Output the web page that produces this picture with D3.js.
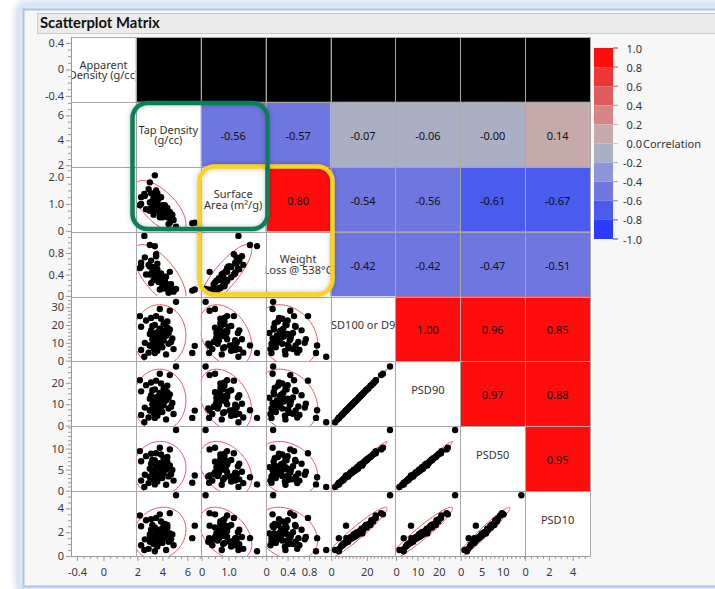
<!DOCTYPE html>
<html lang="en">
<head>
<meta charset="utf-8">
<title>Scatterplot Matrix</title>
<script src="https://cdn.jsdelivr.net/npm/d3@7"></script>
<style>
  body { margin: 0; background: #fff; }
  svg text { font-family: "Noto Sans", "Open Sans", sans-serif; }
  .axis text { font-size: 11px; fill: #3a3a3a; }
  .axis path, .axis line { stroke: #9a9a9a; }
</style>
</head>
<body>
<script>

// variable labels shown on the diagonal
const diagLabels = [
  ["Apparent", "Density (g/cc)"],
  ["Tap Density", "(g/cc)"],
  ["Surface", "Area (m\u00b2/g)"],
  ["Weight", "Loss @ 538\u00b0C"],
  ["PSD100 or D99"],
  ["PSD90"],
  ["PSD50"],
  ["PSD10"]
];

const apparentDensity = []; // no values, correlations missing
const tapDensity = [3.2, 3.5, 3.8, 4.1, 4.4, 3.0, 3.6, 3.9, 4.2, 4.6, 2.3, 2.2, 2.3, 3.3, 3.7, 4.0, 4.3, 4.8, 3.1, 3.4,
  3.9, 4.6, 3.5, 3.6, 4.0, 4.5, 3.8, 3.3, 4.1, 3.0, 4.4, 3.7, 3.2, 4.9, 2.6, 3.9, 4.2, 3.4, 2.7, 4.7,
  3.6, 4.0, 3.1, 3.8, 2.9, 4.3, 3.5, 4.5, 3.3, 4.1, 3.4, 2.56, 5.1, 3.0, 6.4, 6.6];
const surfaceArea = [0.95, 1.35, 0.65, 0.80, 0.85, 1.05, 1.30, 0.55, 0.95, 0.70, 1.25, 0.95, 1.00, 0.80, 1.20, 0.50, 0.80, 0.60, 1.40, 0.75,
  0.70, 0.30, 1.20, 1.10, 0.85, 0.25, 0.80, 1.25, 0.65, 0.75, 0.50, 0.90, 1.10, 0.40, 1.30, 1.25, 0.70, 0.90, 0.80, 0.45,
  1.40, 0.95, 0.85, 0.50, 1.55, 0.75, 1.50, 0.55, 0.60, 0.65, 2.06, 1.37, 0.15, 1.80, 0.28, 0.30];
const weightLoss = [0.45, 0.50, 0.32, 0.36, 0.22, 0.55, 0.60, 0.28, 0.30, 0.15, 0.62, 0.52, 0.55, 0.42, 0.40, 0.25, 0.20, 0.12, 0.66, 0.38,
  0.30, 0.45, 0.78, 0.35, 0.18, 0.10, 0.36, 0.44, 0.33, 0.40, 0.14, 0.26, 0.54, 0.08, 0.72, 0.42, 0.16, 0.46, 0.40, 0.22,
  0.50, 0.28, 0.24, 0.12, 0.58, 0.36, 0.74, 0.06, 0.30, 0.14, 0.93, 1.12, 0.13, 0.95, 0.10, 0.12];
const psd100 = [12.0, 15.5, 18.0, 20.5, 22.0, 8.5, 10.5, 13.0, 16.0, 17.5, 6.0, 25.0, 19.0, 7.0, 9.0, 11.0, 14.0, 12.5, 17.0, 20.0,
  23.5, 28.0, 25.0, 5.5, 7.5, 9.5, 14.5, 11.5, 13.5, 15.0, 18.5, 16.5, 19.5, 6.5, 10.0, 8.0, 21.0, 13.5, 22.5, 10.5,
  6.5, 17.0, 24.0, 29.0, 4.5, 3.5, 12.0, 15.5, 9.5, 11.5, 4.3, 2.2, 33.0, 8.5, 4.3, 8.3];
const psd90 = [10.0, 13.1, 15.2, 17.1, 18.6, 7.1, 8.9, 10.9, 13.5, 14.6, 5.0, 21.2, 16.0, 5.9, 7.5, 9.3, 11.7, 10.6, 14.2, 16.9,
  19.7, 23.6, 21.0, 4.6, 6.3, 8.0, 12.1, 9.8, 11.3, 12.6, 15.6, 13.8, 16.5, 5.4, 8.4, 6.8, 17.6, 11.4, 18.9, 8.8,
  5.5, 14.4, 20.1, 24.2, 3.8, 2.9, 10.2, 13.0, 8.0, 9.6, 3.6, 1.6, 27.6, 7.2, 3.6, 7.0];
const psd50 = [4.4, 5.8, 6.5, 7.6, 8.0, 3.3, 4.1, 4.6, 6.2, 6.0, 2.4, 9.4, 7.0, 2.6, 3.6, 4.4, 5.0, 4.9, 6.4, 7.2,
  8.6, 9.8, 8.9, 2.2, 3.0, 3.4, 5.6, 4.3, 5.1, 5.2, 6.9, 6.0, 7.3, 2.4, 3.8, 3.2, 7.7, 4.9, 8.2, 3.9,
  2.7, 6.3, 8.8, 10.2, 1.8, 1.4, 4.5, 5.6, 3.5, 4.2, 1.5, 0.9, 14.4, 3.2, 1.9, 3.6];
const psd10 = [1.6, 2.0, 2.2, 2.6, 2.6, 1.2, 1.5, 1.6, 2.1, 1.9, 0.9, 3.4, 2.5, 1.0, 1.3, 1.6, 1.7, 1.8, 2.2, 2.4,
  2.9, 3.6, 3.2, 0.8, 1.1, 1.2, 2.0, 1.5, 1.9, 1.8, 2.4, 2.0, 2.6, 0.9, 1.4, 1.1, 2.7, 1.7, 3.0, 1.4,
  1.0, 2.3, 3.1, 3.5, 0.6, 0.5, 1.6, 1.9, 1.3, 1.5, 0.4, 0.5, 5.1, 1.5, 1.5, 2.55];

// correlations printed in the upper triangle (row variable vs later columns)
const corrTapDensity = [-0.56, -0.57, -0.07, -0.06, -0.004, 0.14];
const corrSurfaceArea = [0.80, -0.54, -0.56, -0.61, -0.67];
const corrWeightLoss = [-0.42, -0.42, -0.47, -0.51];
const corrPsd100 = [1.00, 0.96, 0.85];
const corrPsd90 = [0.97, 0.88];
const corrPsd50 = [0.95];

// axis ticks
const xTickValues = [[-0.4, 0], [2, 4, 6], [0, 1], [0, 0.4, 0.8], [0, 20], [0, 10, 20], [0, 5, 10], [0, 2, 4]];
const xTickLabels = [["-0.4", "0"], ["2", "4", "6"], ["0", "1.0"], ["0", "0.4", "0.8"], ["0", "20"], ["0", "10", "20"], ["0", "5", "10"], ["0", "2", "4"]];
const yTickValues = [[0.4, 0, -0.4], [6, 4, 2], [2, 1, 0], [0.8, 0.4, 0], [30, 20, 10, 0], [20, 10, 0], [10, 5, 0], [4, 2, 0]];
const yTickLabels = [["0.4", "0", "-0.4"], ["6", "4", "2"], ["2.0", "1.0", "0"], ["0.8", "0.4", "0"], ["30", "20", "10", "0"], ["20", "10", "0"], ["10", "5", "0"], ["4", "2", "0"]];

// legend
const legendValues = [1.0, 0.8, 0.6, 0.4, 0.2, 0.0, -0.2, -0.4, -0.6, -0.8, -1.0];
const legendLabels = ["1.0", "0.8", "0.6", "0.4", "0.2", "0.0", "-0.2", "-0.4", "-0.6", "-0.8", "-1.0"];

// ---------------------------------------------------------------
const columns = [apparentDensity, tapDensity, surfaceArea, weightLoss, psd100, psd90, psd50, psd10];
const corrRows = [null, corrTapDensity, corrSurfaceArea, corrWeightLoss, corrPsd100, corrPsd90, corrPsd50, []];
const domains = [[-0.49, 0.49], [1.88, 7.08], [-0.03, 2.38], [-0.01, 1.2], [-0.4, 36], [-0.3, 30], [-0.1, 15.3], [0, 5.45]];
const minorSteps = [0.1, 0.5, 0.25, 0.1, 2, 2.5, 1, 0.5];

const n = 8;
const x0 = 71, y0 = 37;
const cell = (590 - 71) / n;

const corrColor = d3.scaleThreshold()
  .domain([-0.8, -0.6, -0.4, -0.2, 0, 0.2, 0.4, 0.6, 0.8])
  .range(["#2b3bff", "#4a5bee", "#6e76e0", "#8e95d6", "#abafc4",
          "#c6aaaa", "#d68585", "#df5c5c", "#ee3636", "#ff0d0d"]);

function xScale(j) {
  return d3.scaleLinear().domain(domains[j]).range([x0 + j * cell, x0 + (j + 1) * cell]);
}
function yScale(i) {
  return d3.scaleLinear().domain(domains[i]).range([y0 + (i + 1) * cell, y0 + i * cell]);
}

const svg = d3.select("body").append("svg")
  .attr("width", 715)
  .attr("height", 589);

const defs = svg.append("defs");
defs.append("filter").attr("id", "soft")
  .attr("x", "-10%").attr("y", "-10%").attr("width", "120%").attr("height", "120%")
  .append("feGaussianBlur").attr("stdDeviation", 3);
defs.append("filter").attr("id", "shadow")
  .attr("x", "-10%").attr("y", "-10%").attr("width", "120%").attr("height", "120%")
  .append("feDropShadow").attr("dx", 0).attr("dy", 0).attr("stdDeviation", 2.5)
  .attr("flood-color", "#000").attr("flood-opacity", 0.25);

// window frame
svg.append("rect").attr("width", 715).attr("height", 589).attr("fill", "#fff");
svg.append("rect")
  .attr("x", 19).attr("y", 5).attr("width", 760).attr("height", 586).attr("rx", 6)
  .attr("fill", "none").attr("stroke", "#cbdaee").attr("stroke-width", 7)
  .attr("filter", "url(#soft)");
svg.append("rect")
  .attr("x", 23.5).attr("y", 9.5).attr("width", 760).attr("height", 577)
  .attr("fill", "#f7f7f7").attr("stroke", "#a9c4e4").attr("stroke-width", 2);

// title bar
svg.append("rect")
  .attr("x", 37.5).attr("y", 13.5).attr("width", 700).attr("height", 20)
  .attr("fill", "#ebebeb").attr("stroke", "#cccccc");
svg.append("text")
  .attr("x", 40).attr("y", 28)
  .style("font-family", "Lato, sans-serif")
  .attr("font-size", "14.8px").attr("font-weight", "bold").attr("fill", "#111")
  .text("Scatterplot Matrix");

// cells
for (let i = 0; i < n; i++) {
  for (let j = 0; j < n; j++) {
    const cx = x0 + j * cell, cy = y0 + i * cell;
    let fill = "#fff";
    let value = null;
    if (j > i) {
      if (i === 0) fill = "#000";
      else {
        value = corrRows[i][j - i - 1];
        fill = corrColor(value);
      }
    }
    svg.append("rect")
      .attr("x", cx).attr("y", cy).attr("width", cell).attr("height", cell)
      .attr("fill", fill);

    const clipId = `clip-${i}-${j}`;
    defs.append("clipPath").attr("id", clipId)
      .append("rect").attr("x", cx).attr("y", cy).attr("width", cell).attr("height", cell);
    const g = svg.append("g").attr("clip-path", `url(#${clipId})`);

    if (value !== null) {
      g.append("text")
        .attr("x", cx + cell / 2).attr("y", cy + cell / 2 + 1)
        .attr("text-anchor", "middle").attr("dominant-baseline", "central")
        .attr("font-size", "11px").attr("fill", "#111")
        .text(value.toFixed(2));
    }

    if (i === j) {
      const lines = diagLabels[i];
      const t = g.append("text")
        .attr("text-anchor", "middle").attr("font-size", "11px").attr("fill", "#333");
      const shift = lines.length > 1 ? 4.5 : 0;
      lines.forEach((s, k) => {
        t.append("tspan")
          .attr("x", cx + cell / 2)
          .attr("y", cy + cell / 2 + shift + (k - (lines.length - 1) / 2) * 10.5)
          .text(s);
      });
    }

    if (i > j && columns[i].length && columns[j].length) {
      const xs = columns[j], ys = columns[i];
      const x = xScale(j), y = yScale(i);

      // 95% density ellipse
      const mx = d3.mean(xs), my = d3.mean(ys);
      const sx = d3.deviation(xs), sy = d3.deviation(ys);
      const cov = d3.sum(xs, (v, k) => (v - mx) * (ys[k] - my)) / (xs.length - 1);
      const r = Math.min(0.9995, cov / (sx * sy));
      const c = Math.sqrt(5.991);
      const ell = d3.range(0, 361, 3).map(a => {
        const th = a * Math.PI / 180;
        return [x(mx + c * sx * Math.cos(th)),
                y(my + c * sy * (r * Math.cos(th) + Math.sqrt(1 - r * r) * Math.sin(th)))];
      });
      g.append("path")
        .attr("d", d3.line()(ell))
        .attr("fill", "none").attr("stroke", "#e9505f").attr("stroke-width", 1);

      g.selectAll("circle")
        .data(d3.range(xs.length))
        .enter()
        .append("circle")
        .attr("cx", k => x(xs[k]))
        .attr("cy", k => y(ys[k]))
        .attr("r", 3.2)
        .attr("fill", "#000");
    }
  }
}

// grid lines
const grid = svg.append("g").attr("stroke", "#a8a8a8").attr("stroke-width", 1);
for (let k = 0; k <= n; k++) {
  const px = Math.round(x0 + k * cell) + 0.5;
  const py = Math.round(y0 + k * cell) + 0.5;
  grid.append("line").attr("x1", px).attr("x2", px).attr("y1", y0).attr("y2", y0 + n * cell);
  grid.append("line").attr("x1", x0).attr("x2", x0 + n * cell).attr("y1", py).attr("y2", py);
}

function minorTicks(k, majors) {
  const [a, b] = domains[k];
  const st = minorSteps[k];
  return d3.range(Math.ceil(a / st) * st, b, st)
    .filter(v => !majors.some(t => Math.abs(t - v) < 1e-9));
}

// left axes
for (let i = 0; i < n; i++) {
  const y = yScale(i);
  svg.append("g").attr("class", "axis")
    .attr("transform", `translate(${x0},0)`)
    .call(d3.axisLeft(y).tickValues(minorTicks(i, yTickValues[i])).tickSize(3).tickSizeOuter(0).tickFormat(""));
  svg.append("g").attr("class", "axis")
    .attr("transform", `translate(${x0},0)`)
    .call(d3.axisLeft(y).tickValues(yTickValues[i]).tickSize(5).tickSizeOuter(0).tickPadding(2)
      .tickFormat((d, k) => yTickLabels[i][k]));
}

// bottom axes
const yb = y0 + n * cell;
for (let j = 0; j < n; j++) {
  const x = xScale(j);
  svg.append("g").attr("class", "axis")
    .attr("transform", `translate(0,${yb})`)
    .call(d3.axisBottom(x).tickValues(minorTicks(j, xTickValues[j])).tickSize(3).tickSizeOuter(0).tickFormat(""));
  svg.append("g").attr("class", "axis")
    .attr("transform", `translate(0,${yb})`)
    .call(d3.axisBottom(x).tickValues(xTickValues[j]).tickSize(5).tickSizeOuter(0).tickPadding(7)
      .tickFormat((d, k) => xTickLabels[j][k]));
}

// legend
const ly = d3.scaleLinear().domain([1, -1]).range([48, 239]);
const legend = svg.append("g");
for (let k = 0; k < legendValues.length - 1; k++) {
  const hi = legendValues[k], lo = legendValues[k + 1];
  legend.append("rect")
    .attr("x", 594).attr("y", ly(hi)).attr("width", 19).attr("height", ly(lo) - ly(hi))
    .attr("fill", corrColor((hi + lo) / 2));
}
legendValues.forEach((v, k) => {
  const col = v > 0.01 ? corrColor(v - 0.1) : v < -0.01 ? corrColor(v + 0.1) : "#cccccc";
  legend.append("line")
    .attr("x1", 613).attr("x2", 618).attr("y1", ly(v)).attr("y2", ly(v))
    .attr("stroke", col).attr("stroke-width", 1);
  legend.append("text")
    .attr("x", 642).attr("y", ly(v))
    .attr("text-anchor", "end").attr("dominant-baseline", "central")
    .attr("font-size", "11px").attr("fill", "#333")
    .text(legendLabels[k]);
});
legend.append("text")
  .attr("x", 643).attr("y", ly(0))
  .attr("dominant-baseline", "central")
  .attr("font-size", "11px").attr("fill", "#333")
  .text("Correlation");

// highlight boxes
svg.append("rect")
  .attr("x", 199.5).attr("y", 166.5).attr("width", 133).attr("height", 128).attr("rx", 15)
  .attr("fill", "none").attr("stroke", "#f8d320").attr("stroke-width", 4.5)
  .attr("filter", "url(#shadow)");
svg.append("rect")
  .attr("x", 132.5).attr("y", 103).attr("width", 135).attr("height", 126).attr("rx", 15)
  .attr("fill", "none").attr("stroke", "#0b7e5a").attr("stroke-width", 4.5)
  .attr("filter", "url(#shadow)");

</script>
</body>
</html>
